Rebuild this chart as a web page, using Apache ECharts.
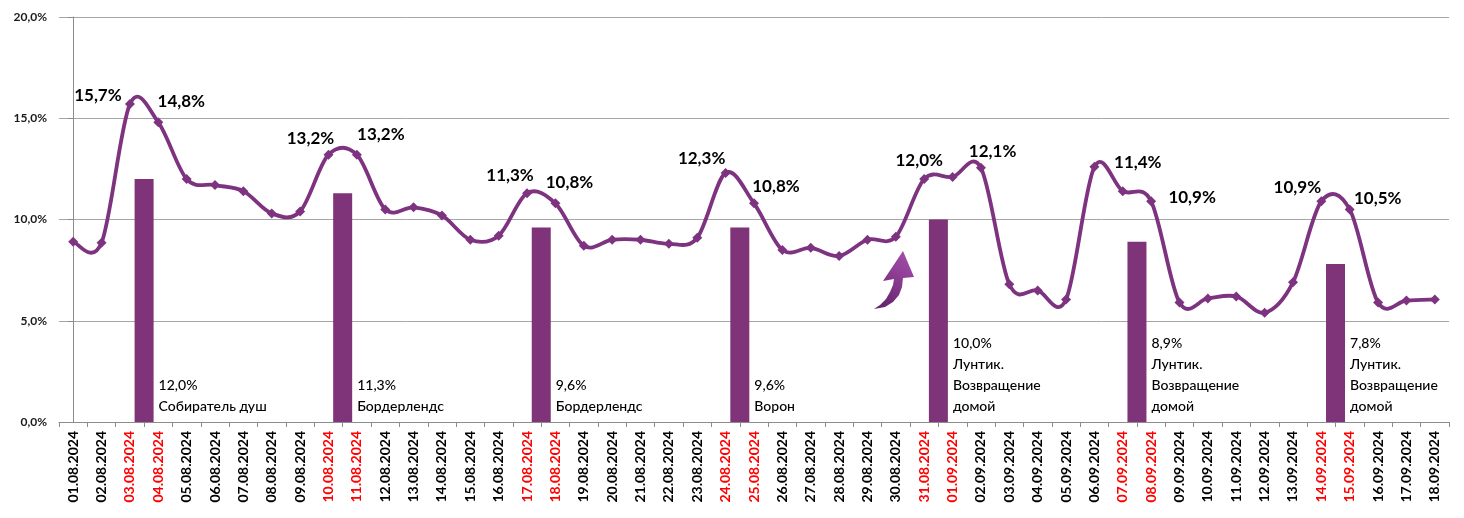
<!DOCTYPE html>
<html>
<head>
<meta charset="utf-8">
<title>Доля</title>
<script src="https://cdn.jsdelivr.net/npm/echarts@6.0.0/dist/echarts.min.js"></script>
<style>
  html, body { margin: 0; padding: 0; background: #fff; }
  #chart { width: 1464px; height: 518px; }
</style>
</head>
<body>
<div id="chart"></div>
<script>
var dates = [
    '01.08.2024','02.08.2024','03.08.2024','04.08.2024','05.08.2024','06.08.2024','07.08.2024',
    '08.08.2024','09.08.2024','10.08.2024','11.08.2024','12.08.2024','13.08.2024','14.08.2024',
    '15.08.2024','16.08.2024','17.08.2024','18.08.2024','19.08.2024','20.08.2024','21.08.2024',
    '22.08.2024','23.08.2024','24.08.2024','25.08.2024','26.08.2024','27.08.2024','28.08.2024',
    '29.08.2024','30.08.2024','31.08.2024','01.09.2024','02.09.2024','03.09.2024','04.09.2024',
    '05.09.2024','06.09.2024','07.09.2024','08.09.2024','09.09.2024','10.09.2024','11.09.2024',
    '12.09.2024','13.09.2024','14.09.2024','15.09.2024','16.09.2024','17.09.2024','18.09.2024'
];
var shareValues = [
    8.9, 8.85, 15.7, 14.8, 12.0, 11.7, 11.4,
    10.3, 10.4, 13.2, 13.2, 10.5, 10.6, 10.2,
    9.0, 9.2, 11.3, 10.8, 8.7, 9.0, 9.0,
    8.8, 9.1, 12.3, 10.8, 8.5, 8.6, 8.2,
    9.0, 9.15, 12.0, 12.1, 12.55, 6.8, 6.5,
    6.05, 12.6, 11.4, 10.9, 5.9, 6.1, 6.2,
    5.4, 6.9, 10.9, 10.5, 5.9, 6.0, 6.05
];
// релизы выходных: столбик ставится между субботой и воскресеньем
var releaseDates = ['03.08.2024','10.08.2024','17.08.2024','24.08.2024','31.08.2024','07.09.2024','14.09.2024'];
var releaseValues = [12.0, 11.3, 9.6, 9.6, 10.0, 8.9, 7.8];
var releaseTitles = [
    'Собиратель душ',
    'Бордерлендс',
    'Бордерлендс',
    'Ворон',
    'Лунтик.\nВозвращение\nдомой',
    'Лунтик.\nВозвращение\nдомой',
    'Лунтик.\nВозвращение\nдомой'
];
var yTicks = [0, 5, 10, 15, 20];

// сдвиги подписей у точек выходных дней
var labelOffsets = {
    2: [-32, -9], 3: [23, -21],
    9: [-18, -16], 10: [24, -20],
    16: [-17, -18], 17: [14, -21],
    23: [-24, -14], 24: [22, -17],
    30: [-5, -18], 31: [40, -25],
    37: [15, -29], 38: [41, -4],
    44: [-24, -14], 45: [28, -11]
};

var FONT = 'Lato, "Noto Sans", sans-serif';
var LINE_COLOR = '#7E3381';
var BAR_COLOR = '#7F3379';

function fmt(v) {
    return v.toFixed(1).replace('.', ',') + '%';
}

function isWeekend(d) {
    var p = d.split('.');
    var day = new Date(+p[2], +p[1] - 1, +p[0]).getDay();
    return day === 0 || day === 6;
}

var lineData = shareValues.map(function (v, i) {
    var item = { value: v };
    if (labelOffsets[i]) {
        item.label = {
            show: true,
            position: 'inside',
            offset: labelOffsets[i],
            formatter: function (p) { return fmt(p.value); }
        };
    }
    return item;
});

var barData = releaseDates.map(function (d, i) {
    return [dates.indexOf(d) + 0.5, releaseValues[i]];
});

// сглаживание как в Excel (Catmull-Rom): отрезок i -> i+1
function renderSegment(params, api) {
    var i = params.dataIndex;
    var n = shareValues.length;
    if (i >= n - 1) return null;
    var p0 = api.coord([Math.max(i - 1, 0), shareValues[Math.max(i - 1, 0)]]);
    var p1 = api.coord([i, shareValues[i]]);
    var p2 = api.coord([i + 1, shareValues[i + 1]]);
    var p3 = api.coord([Math.min(i + 2, n - 1), shareValues[Math.min(i + 2, n - 1)]]);
    return {
        type: 'bezierCurve',
        shape: {
            x1: p1[0], y1: p1[1],
            cpx1: p1[0] + (p2[0] - p0[0]) / 6, cpy1: p1[1] + (p2[1] - p0[1]) / 6,
            cpx2: p2[0] - (p3[0] - p1[0]) / 6, cpy2: p2[1] - (p3[1] - p1[1]) / 6,
            x2: p2[0], y2: p2[1]
        },
        style: { stroke: LINE_COLOR, lineWidth: 3.8, fill: null, lineCap: 'round' }
    };
}

// стрелка-указатель перед 31.08
var arrowPoints = [
    [874, 309], [880, 305], [886, 299], [890, 292], [893, 285], [894, 279],
    [883, 281], [903, 251], [914, 277], [903, 278],
    [902, 287], [899, 295], [893, 302], [885, 307]
];

var myChart = echarts.init(document.getElementById('chart'));
var option = {
    backgroundColor: '#fff',
    animation: false,
    textStyle: { fontFamily: FONT },
    grid: { left: 59, right: 15, top: 17, bottom: 96 },
    xAxis: [{
        type: 'category',
        data: dates,
        boundaryGap: true,
        axisLine: { lineStyle: { color: '#8c8c8c', width: 1 } },
        axisTick: { show: true, interval: 0, length: 5, lineStyle: { color: '#8c8c8c' } },
        axisLabel: {
            interval: 0,
            rotate: 90,
            margin: 9,
            fontFamily: FONT,
            fontSize: 14,
            fontWeight: 'bold',
            color: function (value) { return isWeekend(value) ? '#FF0000' : '#000'; }
        }
    }, {
        type: 'value',
        show: false,
        min: -0.5,
        max: dates.length - 0.5
    }],
    yAxis: {
        type: 'value',
        min: yTicks[0],
        max: yTicks[yTicks.length - 1],
        interval: yTicks[1] - yTicks[0],
        axisLine: { show: true, lineStyle: { color: '#8c8c8c' } },
        axisTick: { show: true, length: 5, lineStyle: { color: '#8c8c8c' } },
        splitLine: { lineStyle: { color: '#a6a6a6', width: 1 } },
        axisLabel: {
            margin: 12,
            fontFamily: FONT,
            fontSize: 12,
            fontWeight: 'bold',
            color: '#1a1a1a',
            formatter: function (v) { return fmt(v); }
        }
    },
    series: [{
        name: 'Релизы',
        type: 'bar',
        xAxisIndex: 1,
        barWidth: 19,
        data: barData,
        itemStyle: { color: BAR_COLOR },
        label: {
            show: true,
            position: ['100%', '100%'],
            align: 'left',
            verticalAlign: 'bottom',
            offset: [5, -5],
            fontFamily: FONT,
            fontSize: 14,
            fontWeight: 500,
            lineHeight: 21,
            color: '#000',
            formatter: function (p) {
                return fmt(p.value[1]) + '\n' + releaseTitles[p.dataIndex];
            }
        },
        z: 1
    }, {
        name: 'Кривая',
        type: 'custom',
        renderItem: renderSegment,
        data: shareValues.map(function (v, i) { return [i, v]; }),
        silent: true,
        z: 2
    }, {
        name: 'Доля',
        type: 'line',
        data: lineData,
        symbol: 'diamond',
        symbolSize: 10,
        lineStyle: { width: 0, opacity: 0 },
        itemStyle: { color: LINE_COLOR },
        label: {
            fontFamily: FONT,
            fontSize: 17,
            fontWeight: 'bold',
            color: '#000'
        },
        z: 3
    }],
    graphic: [{
        type: 'polygon',
        shape: { points: arrowPoints },
        style: {
            fill: {
                type: 'linear', x: 0, y: 1, x2: 1, y2: 0,
                colorStops: [
                    { offset: 0, color: '#5E1F66' },
                    { offset: 0.6, color: '#8E3E94' },
                    { offset: 1, color: '#A653AB' }
                ]
            }
        },
        z: 10
    }]
};
myChart.setOption(option);
</script>
</body>
</html>
